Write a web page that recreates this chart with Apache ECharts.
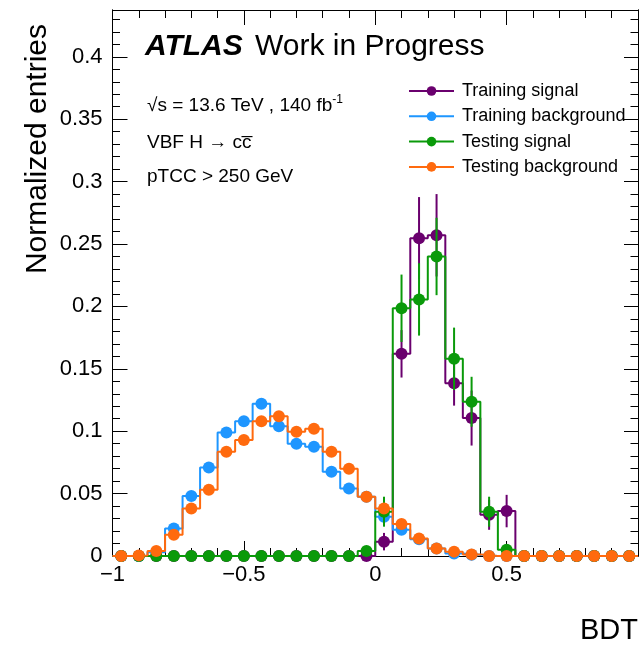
<!DOCTYPE html>
<html>
<head>
<meta charset="utf-8">
<script src="https://cdn.jsdelivr.net/npm/echarts@6/dist/echarts.min.js"></script>
<style>
  html, body { margin: 0; padding: 0; background: #ffffff; }
  #chart { width: 641px; height: 649px; }
</style>
</head>
<body>
<div id="chart"></div>
<script>
// BDT score binning: 30 bins between -1 and 1
const binEdges = [-1, -0.93333, -0.86667, -0.8, -0.73333, -0.66667, -0.6, -0.53333, -0.46667, -0.4,
  -0.33333, -0.26667, -0.2, -0.13333, -0.06667, 0, 0.06667, 0.13333, 0.2, 0.26667,
  0.33333, 0.4, 0.46667, 0.53333, 0.6, 0.66667, 0.73333, 0.8, 0.86667, 0.93333, 1];

// Normalized entries per bin
const trainingSignal = [0, 0, 0, 0, 0, 0, 0, 0, 0, 0, 0, 0, 0, 0, 0,
  0.0115, 0.162, 0.2546, 0.257, 0.1385, 0.1105, 0.033, 0.036, 0, 0, 0, 0, 0, 0, 0];
const trainingSignalErr = [0, 0, 0, 0, 0, 0, 0, 0, 0, 0, 0, 0, 0, 0, 0,
  0.007, 0.019, 0.033, 0.033, 0.018, 0.022, 0.012, 0.013, 0, 0, 0, 0, 0, 0, 0];

const trainingBackground = [0, 0, 0.003, 0.022, 0.048, 0.071, 0.099, 0.108, 0.122, 0.104,
  0.090, 0.0876, 0.0676, 0.054, 0.0475, 0.0315, 0.021, 0.0134, 0.006, 0.002,
  0.001, 0, 0, 0, 0, 0, 0, 0, 0, 0];
const trainingBackgroundErr = [0, 0, 0.001, 0.002, 0.002, 0.002, 0.002, 0.002, 0.002, 0.002,
  0.002, 0.002, 0.002, 0.002, 0.002, 0.002, 0.002, 0.002, 0.001, 0.001,
  0.001, 0, 0, 0, 0, 0, 0, 0, 0, 0];

const testingSignal = [0, 0, 0, 0, 0, 0, 0, 0, 0, 0, 0, 0, 0, 0, 0.004,
  0.0355, 0.1985, 0.2056, 0.240, 0.158, 0.1236, 0.0355, 0.005, 0, 0, 0, 0, 0, 0, 0];
const testingSignalErr = [0, 0, 0, 0, 0, 0, 0, 0, 0, 0, 0, 0, 0, 0, 0.003,
  0.012, 0.027, 0.029, 0.031, 0.025, 0.020, 0.012, 0.004, 0, 0, 0, 0, 0, 0, 0];

const testingBackground = [0, 0.0005, 0.004, 0.017, 0.038, 0.053, 0.0836, 0.093, 0.108, 0.112,
  0.0996, 0.102, 0.0836, 0.070, 0.0475, 0.038, 0.0256, 0.014, 0.006, 0.0035,
  0.0013, 0, 0, 0, 0, 0, 0, 0, 0, 0];
const testingBackgroundErr = [0, 0.0005, 0.001, 0.002, 0.003, 0.003, 0.003, 0.003, 0.003, 0.003,
  0.003, 0.003, 0.003, 0.003, 0.003, 0.002, 0.002, 0.002, 0.001, 0.001,
  0.001, 0, 0, 0, 0, 0, 0, 0, 0, 0];

const seriesNames = ['Training signal', 'Training background', 'Testing signal', 'Testing background'];
const seriesColors = ['#6a006e', '#1e96ff', '#0a9a0a', '#ff6a0e'];

const FONT = '"Liberation Sans", Arial, Helvetica, sans-serif';
const binCenters = binEdges.slice(0, -1).map((e, i) => (e + binEdges[i + 1]) / 2);

function stepSeries(name, vals, color, z) {
  return {
    type: 'line', name: name, step: 'end', z: z,
    data: binEdges.map((e, i) => [e, vals[Math.min(i, vals.length - 1)]]),
    symbol: 'circle', symbolSize: 11, showSymbol: false,
    lineStyle: { color: color, width: 2 }, itemStyle: { color: color },
    silent: true, animation: false
  };
}
function errorSeries(name, vals, errs, color, z) {
  return {
    type: 'custom', name: name + ' err', z: z, silent: true, animation: false,
    data: binCenters.map((c, i) => [c, vals[i], errs[i]]),
    encode: { x: 0, y: 1 },
    renderItem: function (params, api) {
      const x = api.value(0), v = api.value(1), e = api.value(2);
      if (!e) return { type: 'group', children: [] };
      const p1 = api.coord([x, Math.max(0, v - e)]);
      const p2 = api.coord([x, v + e]);
      return { type: 'line', shape: { x1: p1[0], y1: p1[1], x2: p2[0], y2: p2[1] },
        style: { stroke: color, lineWidth: 2 } };
    }
  };
}
function markerSeries(name, vals, color, z) {
  return {
    type: 'scatter', name: name + ' pts', z: z, silent: true, animation: false, clip: false,
    data: binCenters.map((c, i) => [c, vals[i]]),
    symbol: 'circle', symbolSize: 12, itemStyle: { color: color, opacity: 1 }
  };
}

const allVals = [trainingSignal, trainingBackground, testingSignal, testingBackground];
const allErrs = [trainingSignalErr, trainingBackgroundErr, testingSignalErr, testingBackgroundErr];
const series = [];
seriesNames.forEach((n, i) => {
  const z = 3 + i;
  series.push(stepSeries(n, allVals[i], seriesColors[i], z));
  series.push(errorSeries(n, allVals[i], allErrs[i], seriesColors[i], z));
  series.push(markerSeries(n, allVals[i], seriesColors[i], z));
});

const fmt = v => (v < 0 ? '\u2212' : '') + String(+Math.abs(v).toFixed(2));
const axisLineStyle = { show: true, onZero: false, lineStyle: { color: '#000', width: 1 } };
const Y_MAX = 0.4375;

function yAx(pos, interval, len, labels) {
  return {
    type: 'value', position: pos, min: 0, max: Y_MAX, interval: interval,
    axisLine: axisLineStyle, splitLine: { show: false },
    axisTick: { show: true, inside: true, length: len, lineStyle: { color: '#000', width: 1 } },
    axisLabel: labels ? {
      show: true, margin: 10, color: '#000', fontSize: 22, fontFamily: FONT,
      formatter: v => Math.abs(v / 0.05 - Math.round(v / 0.05)) < 1e-6 ? (v === 0 ? '0' : fmt(v)) : ''
    } : { show: false }
  };
}
function xAx(pos, labels) {
  return {
    type: 'value', position: pos, min: -1, max: 1, interval: 0.5,
    axisLine: axisLineStyle, splitLine: { show: false },
    axisTick: { show: true, inside: true, length: 15, lineStyle: { color: '#000', width: 1 } },
    minorTick: { show: true, splitNumber: 5, length: 8, lineStyle: { color: '#000', width: 1 } },
    axisLabel: labels ? {
      show: true, margin: 8, color: '#000', fontSize: 22, fontFamily: FONT,
      formatter: v => (v >= 0.999 ? '' : (v === 0 ? '0' : fmt(v)))
    } : { show: false }
  };
}

const chart = echarts.init(document.getElementById('chart'), null, { renderer: 'canvas' });
chart.setOption({
  animation: false,
  backgroundColor: '#ffffff',
  grid: { left: 112.5, top: 10, width: 530, height: 546, show: false },
  xAxis: [xAx('bottom', true), xAx('top', false)],
  yAxis: [yAx('left', 0.05, 15, true), yAx('left', 0.01, 7.5, false),
          yAx('right', 0.05, 14, false), yAx('right', 0.01, 7.5, false)],
  legend: {
    data: seriesNames, orient: 'vertical', left: 403, top: 77,
    itemWidth: 45, itemHeight: 12, itemGap: 7.3,
    textStyle: { color: '#000', fontSize: 18, fontFamily: FONT, padding: [0, 0, 0, 3] },
    selectedMode: false
  },
  graphic: [
    { type: 'text', left: 145, top: 32, style: { text: 'ATLAS', fontSize: 30, fontWeight: 'bold', fontStyle: 'italic', fontFamily: FONT, fill: '#000' } },
    { type: 'text', left: 255, top: 32, style: { text: 'Work in Progress', fontSize: 30, fontFamily: FONT, fill: '#000' } },
    { type: 'text', left: 147, top: 94, style: {
        text: '{a|\u221As = 13.6 TeV , 140 fb}{s|-1}',
        rich: { a: { fontSize: 19, fontFamily: FONT, fill: '#000', verticalAlign: 'bottom' },
                s: { fontSize: 12, fontFamily: FONT, fill: '#000', verticalAlign: 'top', padding: [0, 0, 9, 0] } } } },
    { type: 'text', left: 147, top: 133, style: { text: 'VBF H \u2192 cc\u0305', fontSize: 19, fontFamily: FONT, fill: '#000' } },
    { type: 'text', left: 147, top: 167, style: { text: 'pTCC > 250 GeV', fontSize: 19, fontFamily: FONT, fill: '#000' } },
    { type: 'text', x: 38, y: 24, rotation: Math.PI / 2,
      style: { text: 'Normalized entries', fontSize: 30, fontFamily: FONT, fill: '#000', align: 'right', verticalAlign: 'middle' } },
    { type: 'text', right: 3, top: 616, style: { text: 'BDT', fontSize: 29, fontFamily: FONT, fill: '#000' } }
  ],
  series: series
});
</script>
</body>
</html>
